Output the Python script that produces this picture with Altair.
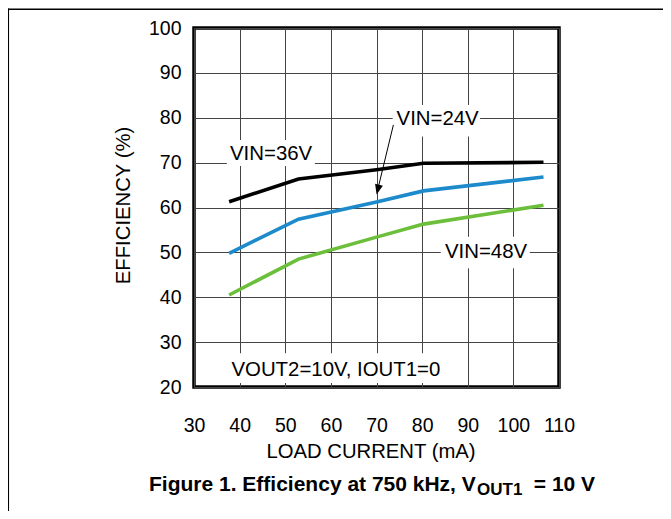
import altair as alt
import pandas as pd

# ---- data ----
load_ma = [37.7, 52.9, 70.0, 80.3, 106.6]
eff_vin36 = [61.3, 66.35, 68.4, 69.85, 70.07]
eff_vin24 = [49.8, 57.4, 61.2, 63.7, 66.8]
eff_vin48 = [40.5, 48.5, 53.4, 56.3, 60.5]

series_names = ["VIN=36V", "VIN=24V", "VIN=48V"]
series_colors = ["#000000", "#1c8acb", "#6bbf3a"]

x_ticks = [30, 40, 50, 60, 70, 80, 90, 100, 110]
y_ticks = [20, 30, 40, 50, 60, 70, 80, 90, 100]

label_text = ["VIN=36V", "VIN=24V", "VIN=48V", "VOUT2=10V, IOUT1=0"]
label_x = [46.9, 83.4, 94.0, 61.1]
label_y = [71.9, 79.65, 50.0, 23.8]
box_x1 = [37.2, 73.55, 84.1, 36.8]
box_x2 = [56.5, 92.7, 103.6, 85.7]
box_y1 = [69.25, 75.8, 46.45, 20.9]
box_y2 = [75.05, 82.85, 53.5, 27.5]

arrow_x = [73.7, 70.5]
arrow_y = [78.4, 64.95]
head_x = [70.28]
head_y = [64.0]

caption_main = "Figure 1. Efficiency at 750 kHz, V"
caption_sub = "OUT1"
caption_end = "= 10 V"

FONT = "Liberation Sans"

# ---- tables ----
rows = []
for name, vals in zip(series_names, [eff_vin36, eff_vin24, eff_vin48]):
    for xv, yv in zip(load_ma, vals):
        rows.append({"x": xv, "y": yv, "series": name})
lines_df = pd.DataFrame(rows)
labels_df = pd.DataFrame({"x": label_x, "y": label_y, "text": label_text})
boxes_df = pd.DataFrame({"x": box_x1, "x2": box_x2, "y": box_y1, "y2": box_y2})
arrow_df = pd.DataFrame({"x": arrow_x, "y": arrow_y})
head_df = pd.DataFrame({"x": head_x, "y": head_y})
dummy = pd.DataFrame({"a": [0]})

xscale = alt.Scale(domain=[30, 110], nice=False, zero=False)
yscale = alt.Scale(domain=[20, 100], nice=False, zero=False)

xaxis = alt.Axis(values=x_ticks, title="LOAD CURRENT (mA)", grid=True, gridColor="#444444",
                 gridWidth=1, domain=False, ticks=False, tickSize=0, labelFontSize=19.5,
                 labelPadding=38, labelBaseline="middle", labelColor="#000000",
                 labelFlush=False, labelOverlap=False, labelFont=FONT,
                 titleFontSize=20.3, titleFontWeight="normal", titleFont=FONT,
                 titleColor="#000000", titleX=176.5, titleY=64,
                 titleBaseline="middle", titleAlign="center")
yaxis = alt.Axis(values=y_ticks, title="EFFICIENCY (%)", grid=True, gridColor="#444444",
                 gridWidth=1, domain=False, ticks=False, tickSize=0, labelFontSize=19.5,
                 labelPadding=13, labelBaseline="middle", labelColor="#000000",
                 labelFlush=False, labelOverlap=False, labelFont=FONT,
                 titleFontSize=20.3, titleFontWeight="normal", titleFont=FONT,
                 titleColor="#000000", titleX=-71, titleY=177, titleAngle=270,
                 titleBaseline="middle", titleAlign="center")


def X(f="x"):
    return alt.X(f"{f}:Q", scale=xscale, axis=xaxis)


def Y(f="y"):
    return alt.Y(f"{f}:Q", scale=yscale, axis=yaxis)


boxes = alt.Chart(boxes_df).mark_rect(color="white", opacity=1).encode(
    x=X(), x2="x2:Q", y=Y(), y2="y2:Q")

lines = alt.Chart(lines_df).mark_line(strokeWidth=3.6).encode(
    x=X(), y=Y(),
    color=alt.Color("series:N", scale=alt.Scale(domain=series_names, range=series_colors),
                    legend=None),
    detail="series:N")

arrow = alt.Chart(arrow_df).mark_line(color="black", strokeWidth=1).encode(x=X(), y=Y())

head = alt.Chart(head_df).mark_point(shape="M -0.8 -1 L 0.8 -1 L 0 1 Z", filled=True,
                                     color="black", size=100, angle=14, opacity=1,
                                     strokeWidth=0).encode(x=X(), y=Y())

labels = alt.Chart(labels_df).mark_text(fontSize=20.4, font=FONT, color="black",
                                        align="center", baseline="middle").encode(
    x=X(), y=Y(), text="text:N")

cap1 = alt.Chart(dummy).mark_text(fontSize=21, fontWeight="bold", font=FONT, color="black",
                                  align="left", baseline="alphabetic").encode(
    x=alt.value(-45), y=alt.value(462.6), text=alt.value(caption_main))
cap2 = alt.Chart(dummy).mark_text(fontSize=17, fontWeight="bold", font=FONT, color="black",
                                  align="left", baseline="alphabetic").encode(
    x=alt.value(283), y=alt.value(466.7), text=alt.value(caption_sub))
cap3 = alt.Chart(dummy).mark_text(fontSize=21, fontWeight="bold", font=FONT, color="black",
                                  align="left", baseline="alphabetic").encode(
    x=alt.value(339.8), y=alt.value(462.6), text=alt.value(caption_end))

frame_left = alt.Chart(dummy).mark_rule(color="black", strokeWidth=1.5).encode(
    x=alt.value(-185.7), y=alt.value(-19.4), y2=alt.value(520))
frame_top = alt.Chart(dummy).mark_rule(color="black", strokeWidth=1.5).encode(
    x=alt.value(-186.4), x2=alt.value(500), y=alt.value(-18.7))

chart = alt.layer(boxes, lines, arrow, head, labels, cap1, cap2, cap3,
                  frame_left, frame_top).properties(
    width=365, height=359,
    padding={"left": 186, "top": 20, "right": 104, "bottom": 124},
    autosize=alt.AutoSizeParams(type="none"),
    background="white",
).configure(font=FONT).configure_view(stroke="black", strokeWidth=3.5)

chart.save("out.html", embed_options={"renderer": "svg", "actions": False})
